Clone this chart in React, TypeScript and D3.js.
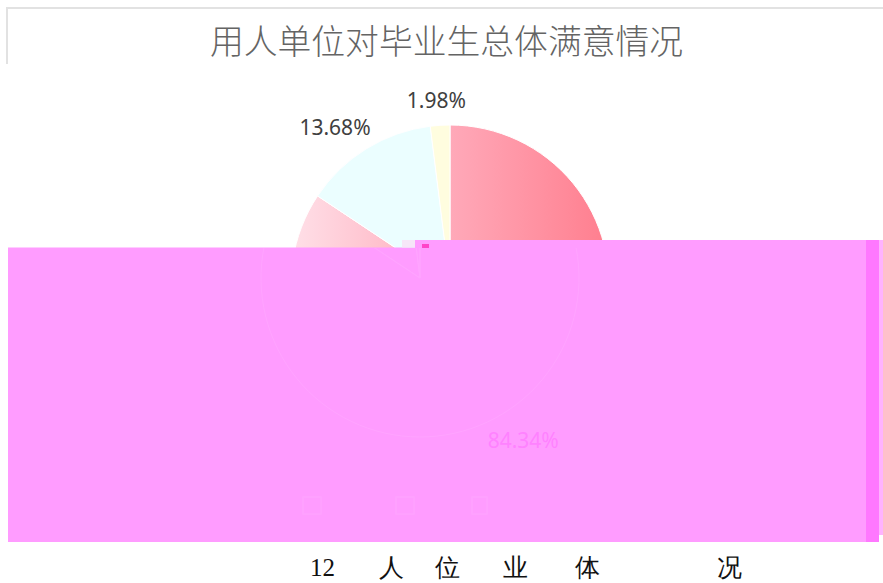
import { useEffect, useRef } from "react";
import * as d3 from "d3";

const title = "用人单位对毕业生总体满意情况";
const categories = ["满意", "基本满意", "不满意"];
const shares = [84.34, 13.68, 1.98];
const captionTokens = ["12", "人", "位", "业", "体", "况"];

const W = 883;
const H = 583;

export default function App() {
  const svgRef = useRef<SVGSVGElement>(null);

  useEffect(() => {
    if (!svgRef.current) return;
    const svg = d3.select(svgRef.current);
    svg.selectAll("*").remove();

    const data = categories.map((c, i) => ({ name: c, value: shares[i] }));
    const pie = d3
      .pie<{ name: string; value: number }>()
      .sort(null)
      .value((d) => d.value);
    const arcs = pie(data);

    const radius = 159;
    const arc = d3
      .arc<d3.PieArcDatum<{ name: string; value: number }>>()
      .innerRadius(0)
      .outerRadius(radius);
    const labelArc = d3
      .arc<d3.PieArcDatum<{ name: string; value: number }>>()
      .innerRadius(190)
      .outerRadius(190);
    // outside-end labels sit a bit further out sideways
    const labelPos = (d: d3.PieArcDatum<{ name: string; value: number }>) => {
      const [x, y] = labelArc.centroid(d);
      return [x * 1.15, y * 0.97 + 2];
    };

    // gradient for the big slice
    const defs = svg.append("defs");
    const grad = defs
      .append("linearGradient")
      .attr("id", "bigSlice")
      .attr("x1", "0%")
      .attr("x2", "100%")
      .attr("y1", "0%")
      .attr("y2", "0%");
    grad.append("stop").attr("offset", "0%").attr("stop-color", "#FFE0E8");
    grad.append("stop").attr("offset", "50%").attr("stop-color", "#FFA9B9");
    grad.append("stop").attr("offset", "100%").attr("stop-color", "#FF7E8E");

    const fills = ["url(#bigSlice)", "#EBFEFF", "#FFFDDF"];

    // chart frame (only top and left edge visible)
    svg
      .append("path")
      .attr("d", `M7,64 V8 H${W}`)
      .attr("fill", "none")
      .attr("stroke", "#E2E2E2")
      .attr("stroke-width", 2);

    svg
      .append("text")
      .attr("x", 446.5)
      .attr("y", 54)
      .attr("text-anchor", "middle")
      .attr("font-family", "'Noto Sans CJK SC', sans-serif")
      .attr("font-size", 33.8)
      .attr("font-weight", 300)
      .attr("fill", "#646464")
      .text(title);

    const g = svg.append("g").attr("transform", "translate(450,284)");

    g.selectAll("path.slice")
      .data(arcs)
      .enter()
      .append("path")
      .attr("class", "slice")
      .attr("d", arc)
      .attr("fill", (_, i) => fills[i])
      .attr("stroke", "#fff")
      .attr("stroke-width", 1);

    g.selectAll("text.lbl")
      .data(arcs.slice(1))
      .enter()
      .append("text")
      .attr("class", "lbl")
      .attr("x", (d) => labelPos(d)[0])
      .attr("y", (d) => labelPos(d)[1])
      .attr("text-anchor", "middle")
      .attr("dominant-baseline", "middle")
      .attr("font-family", "'Noto Sans', sans-serif")
      .attr("font-size", 21)
      .attr("fill", "#404040")
      .text((d) => d.data.value.toFixed(2) + "%");

    // magenta overlay block
    const ov = svg.append("g");
    ov.append("rect").attr("x", 8).attr("y", 247.5).attr("width", 407).attr("height", 294.5).attr("fill", "#FF9CFF");
    ov.append("rect").attr("x", 415).attr("y", 240).attr("width", 451).attr("height", 302).attr("fill", "#FF9CFF");
    ov.append("rect").attr("x", 866).attr("y", 240).attr("width", 13).attr("height", 302).attr("fill", "#FF78FF");
    ov.append("rect").attr("x", 879).attr("y", 240).attr("width", 4).attr("height", 295).attr("fill", "#FFB2FF");
    ov.append("rect").attr("x", 402).attr("y", 240).attr("width", 13).attr("height", 7.5).attr("fill", "#F6E6F8");
    ov.append("rect").attr("x", 422).attr("y", 244).attr("width", 7).attr("height", 4).attr("fill", "#FF44C8");

    // faint ghost of the pie inside the overlay
    const clip = defs.append("clipPath").attr("id", "ovClip");
    clip.append("rect").attr("x", 8).attr("y", 248).attr("width", 858).attr("height", 294);
    const ghost = ov
      .append("g")
      .attr("clip-path", "url(#ovClip)")
      .append("g")
      .attr("transform", "translate(420,278)");
    ghost
      .selectAll("path")
      .data(arcs)
      .enter()
      .append("path")
      .attr("d", arc)
      .attr("fill", "none")
      .attr("stroke", "#FFA4FF")
      .attr("stroke-width", 1);
    ghost
      .append("text")
      .attr("x", labelPos(arcs[0])[0])
      .attr("y", labelPos(arcs[0])[1])
      .attr("text-anchor", "middle")
      .attr("dominant-baseline", "middle")
      .attr("font-family", "'Noto Sans', sans-serif")
      .attr("font-size", 21)
      .attr("fill", "#FF82FF")
      .text(arcs[0].data.value.toFixed(2) + "%");

    // faint legend markers
    const legendX = [303, 396, 472];
    ov.selectAll("rect.leg")
      .data(categories)
      .enter()
      .append("rect")
      .attr("class", "leg")
      .attr("x", (_, i) => legendX[i])
      .attr("y", 497)
      .attr("width", (_, i) => (i === 2 ? 15 : 18))
      .attr("height", 17)
      .attr("fill", "none")
      .attr("stroke", "#FFA2FF")
      .attr("stroke-width", 1.5);

    // caption below (partially rendered)
    const captionX = [310, 379, 435, 503, 575, 717];
    svg
      .selectAll("text.cap")
      .data(captionTokens)
      .enter()
      .append("text")
      .attr("class", "cap")
      .attr("x", (_, i) => captionX[i])
      .attr("y", 576)
      .attr("font-family", "'Liberation Serif', serif")
      .attr("font-size", 25)
      .attr("fill", "#111")
      .text((d) => d);
  }, []);

  return (
    <svg
      ref={svgRef}
      width={W}
      height={H}
      style={{ position: "absolute", left: 0, top: 0, display: "block", background: "#fff" }}
    />
  );
}
